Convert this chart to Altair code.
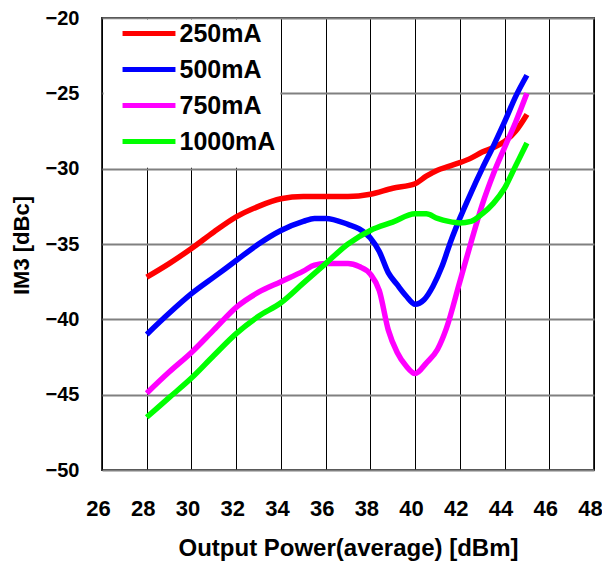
import altair as alt
import pandas as pd

series_names = ["250mA", "500mA", "750mA", "1000mA"]
series_colors = ["#FF0000", "#0000FF", "#FF00FF", "#00FF00"]

x_250 = [28, 29, 30, 31, 32, 33, 34, 35, 36, 37, 38, 39, 40, 40.5, 41, 41.5, 42, 42.5, 43, 43.5, 44, 44.5, 45]
y_250 = [-37.2, -36.3, -35.3, -34.2, -33.2, -32.5, -32.0, -31.85, -31.85, -31.85, -31.7, -31.3, -31.0,
         -30.5, -30.1, -29.85, -29.6, -29.3, -28.9, -28.6, -28.2, -27.5, -26.4]

x_500 = [28, 29, 30, 31, 32, 33, 34, 35, 35.5, 36, 37, 37.5, 38, 38.4, 38.8, 39.2, 39.6, 40, 40.4, 40.8,
         41.2, 41.6, 42, 42.5, 43, 43.5, 44, 44.5, 45]
y_500 = [-41.0, -39.6, -38.3, -37.2, -36.1, -35.0, -34.1, -33.5, -33.3, -33.3, -33.7, -34.0, -34.6, -35.5,
         -36.9, -37.7, -38.45, -39.0, -38.7, -37.8, -36.5, -34.8, -33.3, -31.6, -30.0, -28.5, -26.9, -25.2, -23.8]

x_750 = [28, 29, 30, 31, 32, 33, 34, 35, 35.5, 36, 37, 37.5, 38, 38.4, 38.8, 39.2, 39.6, 40, 40.5, 41,
         41.4, 42, 42.5, 43, 43.5, 44, 44.5, 45]
y_750 = [-44.9, -43.5, -42.2, -40.7, -39.2, -38.2, -37.5, -36.8, -36.4, -36.3, -36.3, -36.5, -37.0, -38.1,
         -40.7, -42.2, -43.1, -43.6, -42.9, -42.0, -40.6, -37.5, -34.9, -32.4, -30.35, -28.6, -26.9, -25.0]

x_1000 = [28, 29, 30, 31, 32, 33, 34, 35, 36, 37, 38, 39, 40, 40.5, 41, 41.5, 42, 42.5, 43, 43.5, 44, 44.5, 45]
y_1000 = [-46.5, -45.2, -43.9, -42.4, -40.95, -39.8, -38.9, -37.6, -36.3, -35.0, -34.1, -33.55, -33.0,
          -33.0, -33.3, -33.5, -33.6, -33.5, -33.0, -32.3, -31.3, -29.8, -28.3]

x_ticks = list(range(26, 49, 2))
y_ticks = list(range(-50, -19, 5))

rows = []
for name, xs, ys in [("250mA", x_250, y_250), ("500mA", x_500, y_500),
                     ("750mA", x_750, y_750), ("1000mA", x_1000, y_1000)]:
    for i, (xv, yv) in enumerate(zip(xs, ys)):
        rows.append({"series": name, "x": xv, "y": yv, "order": i})
df = pd.DataFrame(rows)

FONT = "Liberation Sans"

xscale = alt.Scale(domain=[26, 48], nice=False, zero=False)
yscale = alt.Scale(domain=[-50, -20], nice=False, zero=False)

lines = alt.Chart(df).mark_line(strokeWidth=5.5, interpolate="monotone").encode(
    x=alt.X("x:Q", scale=xscale,
            axis=alt.Axis(title="Output Power(average) [dBm]", values=x_ticks, grid=True,
                          gridColor="#000000", gridWidth=1, gridOpacity=1,
                          domain=False, ticks=False, labelPadding=28, labelFlush=False,
                          labelOffset=-4,
                          labelFontSize=22, labelFont=FONT, labelFontWeight="bold",
                          labelColor="#000000", titleFont=FONT, titleFontSize=24,
                          titleFontWeight="bold", titleColor="#000000",
                          titleY=78, titleBaseline="middle")),
    y=alt.Y("y:Q", scale=yscale,
            axis=alt.Axis(title="IM3 [dBc]", values=y_ticks, grid=True,
                          gridColor="#808080", gridWidth=2, gridOpacity=1,
                          domain=False, ticks=False, labelPadding=23, labelFlush=False,
                          labelFontSize=20, labelFont=FONT, labelFontWeight="bold",
                          labelColor="#000000", titleFont=FONT, titleFontSize=22,
                          titleFontWeight="bold", titleColor="#000000",
                          titleX=-81, titleY=227, titleAngle=270,
                          titleBaseline="middle", titleAlign="center")),
    color=alt.Color("series:N",
                    scale=alt.Scale(domain=series_names, range=series_colors),
                    sort=series_names,
                    legend=alt.Legend(title=None, orient="none", legendX=20, legendY=3,
                                      padding=0, symbolType="M-5,0H5", symbolSize=112,
                                      symbolStrokeWidth=5, symbolOffset=14.5,
                                      labelOffset=18, labelFontSize=25, labelFont=FONT,
                                      labelFontWeight="bold", labelColor="#000000",
                                      rowPadding=10)),
    order="order:Q",
)

legend_bg = alt.Chart(alt.Data(values=[{}])).mark_rect(
    color="white", xOffset=1.5, yOffset=1.5, x2Offset=-0.5, y2Offset=-1
).encode(
    x=alt.datum(26, scale=xscale), x2=alt.datum(34),
    y=alt.datum(-20, scale=yscale), y2=alt.datum(-30),
)

chart = alt.layer(legend_bg, lines).properties(
    width=492, height=452,
    autosize=alt.AutoSizeParams(type="none"),
    padding={"left": 94, "top": 10, "right": 8, "bottom": 100},
    background="white",
).configure_view(stroke="#333333", strokeWidth=2)

chart.save("out.html", embed_options={"renderer": "svg", "actions": False})
